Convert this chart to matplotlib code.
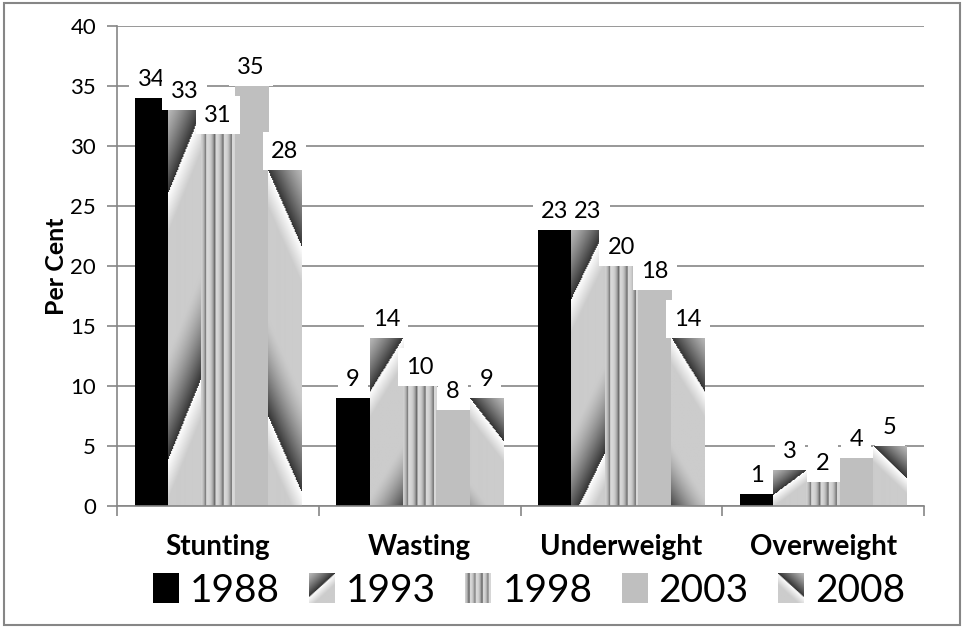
import numpy as np
import matplotlib
matplotlib.use('Agg')
import matplotlib.pyplot as plt
from matplotlib.patches import Rectangle
from matplotlib.legend_handler import HandlerBase
from matplotlib.image import BboxImage
from matplotlib.transforms import Bbox, TransformedBbox

plt.rcParams['font.family'] = ['Lato', 'DejaVu Sans']

categories = ['Stunting', 'Wasting', 'Underweight', 'Overweight']
years = ['1988', '1993', '1998', '2003', '2008']
v1988 = [34, 9, 23, 1]
v1993 = [33, 14, 23, 3]
v1998 = [31, 10, 20, 2]
v2003 = [35, 8, 18, 4]
v2008 = [28, 9, 14, 5]
series = [v1988, v1993, v1998, v2003, v2008]

GRAY = '#868686'


# --- fill patterns (grey levels 0..1), built in pixel units of a bar ---
def solid(level):
    def f(w, h):
        return np.full((h, w), level)
    return f


def diagonal(mirror):
    def f(w, h):
        x = np.arange(w) + 0.5
        y = np.arange(h)[:, None] + 0.5
        if mirror:
            x = w - x
        rise = 4.2 * np.sqrt(max(h, 8))
        period = 13.4 * np.sqrt(max(h, 8))
        t = ((y - rise * (1 - x / w)) / period) % 1.0
        v = np.where(t < 0.15, 1.0 - 0.2 * t / 0.15,
                     np.where(t < 0.6, 0.8, 0.8 - 0.6 * ((t - 0.6) / 0.4) ** 1.4))
        return v
    return f


def vstripes(w, h):
    x = np.arange(w) + 0.5
    t = (x / w * 4 + 0.35) % 1.0
    v = 0.85 - 0.5 * t ** 3
    return np.tile(v, (h, 1))


patterns = [solid(0.0), diagonal(False), vstripes, solid(0.75), diagonal(True)]


def to_rgb(a):
    return np.dstack([a, a, a])


class HandlerPattern(HandlerBase):
    def __init__(self, func):
        super().__init__()
        self.func = func

    def create_artists(self, legend, orig_handle, xdescent, ydescent,
                       width, height, fontsize, trans):
        bb = TransformedBbox(Bbox.from_bounds(-xdescent, -ydescent, width, height), trans)
        im = BboxImage(bb, interpolation='bilinear')
        im.set_data(to_rgb(self.func(22, 28)))
        return [im]


fig = plt.figure(figsize=(9.63, 6.28), dpi=100)
fig.patches.append(Rectangle((0.004, 0.005), 0.993, 0.99, transform=fig.transFigure,
                             fill=False, ec=GRAY, lw=1.5, zorder=0))
ax = fig.add_axes([117 / 963, 1 - 506 / 628, 807 / 963, 480 / 628])

n = len(years)
bw = 0.165
x = np.arange(len(categories))
ax.set_xlim(-0.5, len(categories) - 0.5)
ax.set_ylim(0, 40)

px_per_x = ax.transData.transform((1, 0))[0] - ax.transData.transform((0, 0))[0]
px_per_y = ax.transData.transform((0, 1))[1] - ax.transData.transform((0, 0))[1]

handles = []
for j, (vals, pat) in enumerate(zip(series, patterns)):
    xs = x + (j - (n - 1) / 2) * bw
    bars = ax.bar(xs, vals, bw, color='none', edgecolor='none', zorder=2)
    for b, v in zip(bars, vals):
        w = max(int(round(bw * px_per_x)), 2)
        h = max(int(round(v * px_per_y)), 2)
        x0 = b.get_x()
        ax.imshow(to_rgb(pat(w, h)), extent=(x0, x0 + bw, 0, v), origin='upper',
                  aspect='auto', interpolation='bilinear', zorder=2)
        ax.annotate(str(v), (x0 + bw / 2, v), xytext=(0, 6), textcoords='offset points',
                    ha='center', va='bottom', fontsize=17, zorder=5,
                    bbox=dict(boxstyle='square,pad=0.35', fc='white', ec='none'))
    handles.append(Rectangle((0, 0), 1, 1, label=years[j]))

ax.set_xlim(-0.5, len(categories) - 0.5)
ax.set_ylim(0, 40)

ax.set_yticks(np.arange(0, 41, 5))
ax.yaxis.grid(True, color=GRAY, lw=1.2, zorder=0)
ax.set_axisbelow(True)
ax.tick_params(axis='y', labelsize=16, length=7, width=1.2, color=GRAY, pad=8)
ax.set_xticks(x)
ax.set_xticklabels(categories, fontsize=20, fontweight='bold')
ax.set_xticks(np.arange(-0.5, len(categories), 1), minor=True)
ax.tick_params(axis='x', which='major', length=0, pad=20)
ax.tick_params(axis='x', which='minor', length=7, width=1.2, color=GRAY)
for s in ['top', 'right']:
    ax.spines[s].set_visible(False)
for s in ['left', 'bottom']:
    ax.spines[s].set_color(GRAY)
    ax.spines[s].set_linewidth(1.2)
ax.set_ylabel('Per Cent', fontsize=18, fontweight='bold', labelpad=2)

leg = ax.legend(handles=handles, loc='center', ncol=5, frameon=False,
                bbox_to_anchor=(529 / 963, 1 - 591 / 628), bbox_transform=fig.transFigure,
                fontsize=28, handlelength=0.65, handleheight=0.8, handletextpad=0.3,
                columnspacing=0.75, borderpad=0,
                handler_map={h: HandlerPattern(p) for h, p in zip(handles, patterns)})

fig.savefig('out.png', dpi=100)
